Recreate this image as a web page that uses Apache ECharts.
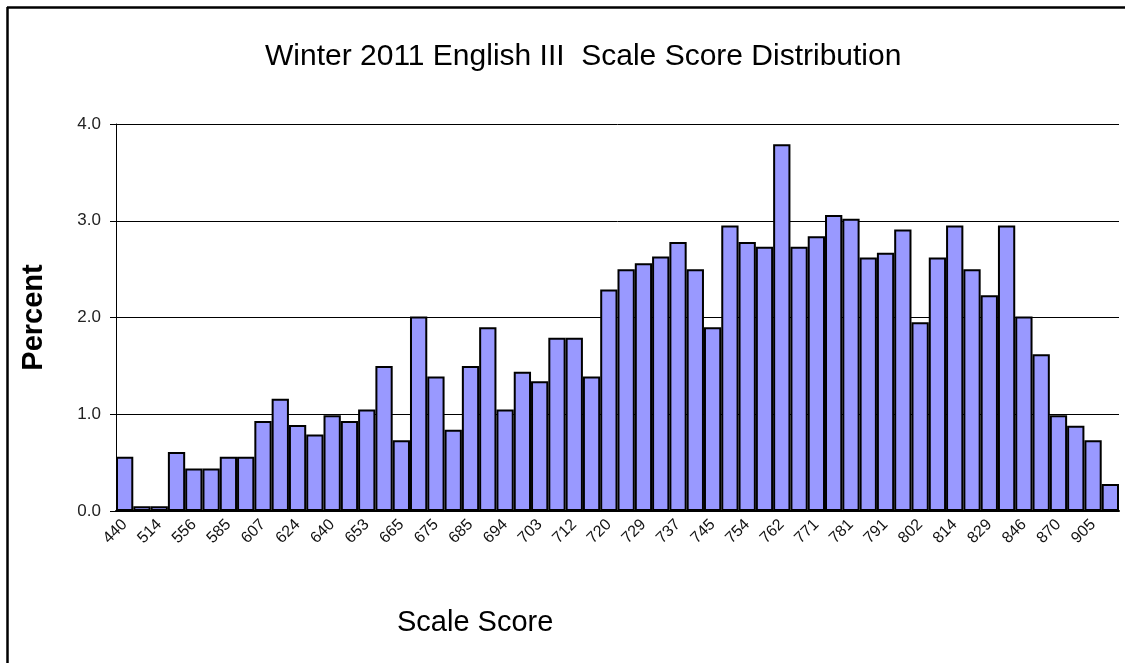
<!DOCTYPE html>
<html>
<head>
<meta charset="utf-8">
<script src="https://cdn.jsdelivr.net/npm/echarts@6/dist/echarts.min.js"></script>
<style>
    html, body { margin: 0; padding: 0; background: #fff; }
    #chart { width: 1125px; height: 663px; }
</style>
</head>
<body>
<div id="chart"></div>
<script>
// tick labels shown under every other bar
var scoreLabels = ["440", "514", "556", "585", "607", "624", "640", "653", "665", "675",
    "685", "694", "703", "712", "720", "729", "737", "745", "754", "762",
    "771", "781", "791", "802", "814", "829", "846", "870", "905"];

// percent of students per score bin (58 bins)
var percentValues = [0.56, 0.05, 0.05, 0.61, 0.44, 0.44, 0.56, 0.56, 0.93, 1.16,
    0.89, 0.79, 0.99, 0.93, 1.05, 1.50, 0.73, 2.01, 1.39, 0.84,
    1.50, 1.90, 1.05, 1.44, 1.34, 1.79, 1.79, 1.39, 2.29, 2.50,
    2.56, 2.63, 2.78, 2.50, 1.90, 2.95, 2.78, 2.73, 3.79, 2.73,
    2.84, 3.06, 3.02, 2.62, 2.67, 2.91, 1.95, 2.62, 2.95, 2.50,
    2.23, 2.95, 2.01, 1.62, 0.99, 0.88, 0.73, 0.28];

// 每个标签后面跟一个空分类
var categories = [];
scoreLabels.forEach(function (lbl) {
    categories.push(lbl);
    categories.push("");
});

var chart = echarts.init(document.getElementById("chart"));

var option = {
    animation: false,
    backgroundColor: "#fff",
    textStyle: { fontFamily: "Arial, 'Liberation Sans', sans-serif" },
    title: [{
        text: "Winter 2011 English III  Scale Score Distribution",
        left: 260,
        top: 37,
        textStyle: { fontSize: 30, fontWeight: "normal", color: "#000" }
    }, {
        text: "Scale Score",
        left: 392,
        top: 603,
        textStyle: { fontSize: 29, fontWeight: "normal", color: "#000" }
    }],
    graphic: [{
        type: "line",
        shape: { x1: 7.5, y1: 7, x2: 7.5, y2: 663 },
        style: { stroke: "#000", lineWidth: 2.5 }
    }, {
        type: "line",
        shape: { x1: 7, y1: 7.5, x2: 1125, y2: 7.5 },
        style: { stroke: "#000", lineWidth: 2.5 }
    }],
    grid: { left: 116, right: 6, top: 124, bottom: 152, containLabel: false },
    xAxis: {
        type: "category",
        data: categories,
        axisLine: { lineStyle: { color: "#000", width: 2 } },
        axisTick: { interval: 0, length: 6, lineStyle: { color: "#000", width: 2 } },
        axisLabel: {
            interval: 1,
            rotate: 45,
            fontSize: 16,
            color: "#111",
            margin: 11
        }
    },
    yAxis: {
        type: "value",
        min: 0,
        max: 4,
        interval: 1,
        name: "Percent",
        nameLocation: "middle",
        nameRotate: 90,
        nameGap: 68,
        nameTextStyle: { fontSize: 29, fontWeight: "bold", color: "#000" },
        axisLine: { show: true, lineStyle: { color: "#000", width: 1 } },
        axisTick: { show: true, length: 6, lineStyle: { color: "#000" } },
        axisLabel: {
            fontSize: 17,
            color: "#222",
            margin: 15,
            formatter: function (v) { return v.toFixed(1); }
        },
        splitLine: { lineStyle: { color: "#000", width: 1 } }
    },
    series: [{
        type: "bar",
        data: percentValues,
        barCategoryGap: "0%",
        itemStyle: { color: "#9999ff", borderColor: "#000", borderWidth: 2 }
    }]
};

chart.setOption(option);
</script>
</body>
</html>
